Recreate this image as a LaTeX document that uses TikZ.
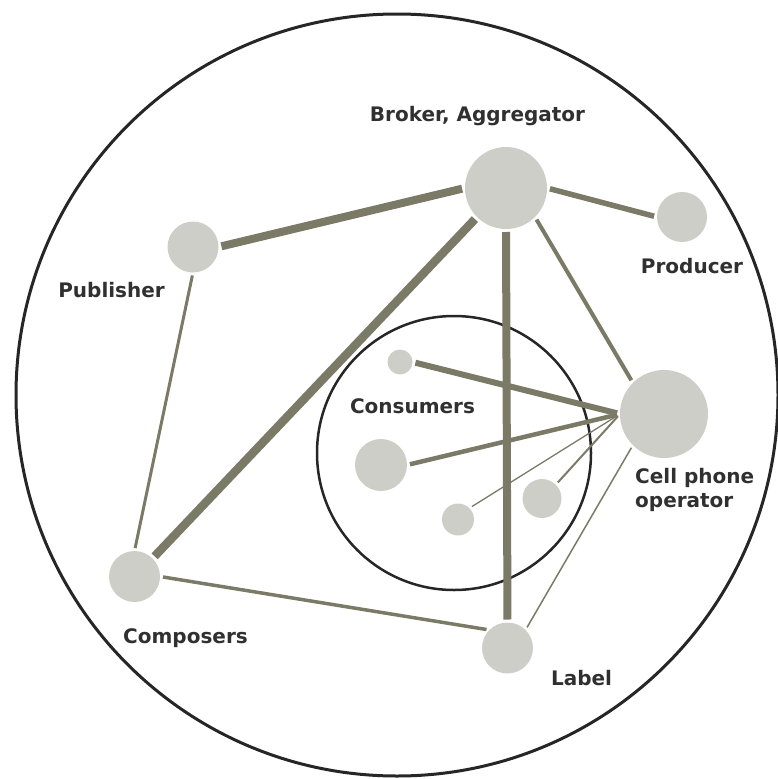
\documentclass[tikz,border=0pt]{standalone}
\usepackage{fontspec}
\setmainfont{DejaVu Sans}
\definecolor{edgecol}{HTML}{7B7A66}
\definecolor{nodefill}{HTML}{CECEC8}
\definecolor{ringcol}{HTML}{262626}
\definecolor{txtcol}{HTML}{303030}
\begin{document}
\begin{tikzpicture}[x=1pt,y=-1pt,
  nd/.style={circle,fill=nodefill,draw=none,inner sep=0pt,outer sep=0pt},
  ed/.style={draw=edgecol,shorten <=3pt,shorten >=3pt},
  ring/.style={draw=ringcol},
  lbl/.style={text=txtcol,font=\fontsize{20}{24}\selectfont\bfseries,inner sep=0pt}]
\useasboundingbox (0,0) rectangle (777,779);
% rings
\draw[ring,line width=3pt] (397,395) circle[radius=381];
\draw[ring,line width=2.5pt] (454,453) circle[radius=137];
% nodes
\node[nd,minimum size=82pt] (broker) at (506,188) {};
\node[nd,minimum size=50pt] (producer) at (682,217) {};
\node[nd,minimum size=51pt] (publisher) at (193,247) {};
\node[nd,minimum size=88pt] (cell) at (664,414) {};
\node[nd,minimum size=25pt] (c1) at (400,362) {};
\node[nd,minimum size=52pt] (c2) at (381,465) {};
\node[nd,minimum size=32pt] (c3) at (458,519.5) {};
\node[nd,minimum size=39pt] (c4) at (542,498.5) {};
\node[nd,minimum size=51pt] (composers) at (134.5,576.5) {};
\node[nd,minimum size=51pt] (label) at (507.5,648) {};
% edges
\draw[ed,line width=8pt] (publisher.east) -- (broker.west);
\draw[ed,line width=5.5pt] (broker.east) -- (producer.west);
\draw[ed,line width=8.5pt] (broker.225) -- (composers.45);
\draw[ed,line width=8pt] (broker.south) -- (label.north);
\draw[ed,line width=4pt] (broker.-45) -- (cell.135);
\draw[ed,line width=3pt] (publisher.south) -- (composers.north);
\draw[ed,line width=3.5pt] (composers.east) -- (label.135);
\draw[ed,line width=1.5pt] (label.45) -- (cell.225);
\draw[ed,line width=6pt] (c1.east) -- (cell.west);
\draw[ed,line width=4.5pt] (c2.east) -- (cell.west);
\draw[ed,line width=1.3pt] (c3.45) -- (cell.west);
\draw[ed,line width=2pt] (c4.45) -- (cell.west);
% labels
\node[lbl,anchor=base] (tbroker) at (477.5,121) {Broker, Aggregator};
\node[lbl,anchor=base] (tproducer) at (692,273) {Producer};
\node[lbl,anchor=base east] (tpublisher) at (165,297) {Publisher};
\node[lbl,anchor=base] (tconsumers) at (412.5,413) {Consumers};
\node[lbl,anchor=base west,align=left] (tcell) at (635,507) {Cell phone\\operator};
\node[lbl,anchor=base] (tcomposers) at (185.5,643) {Composers};
\node[lbl,anchor=base] (tlabel) at (581.5,685) {Label};
\end{tikzpicture}
\end{document}
